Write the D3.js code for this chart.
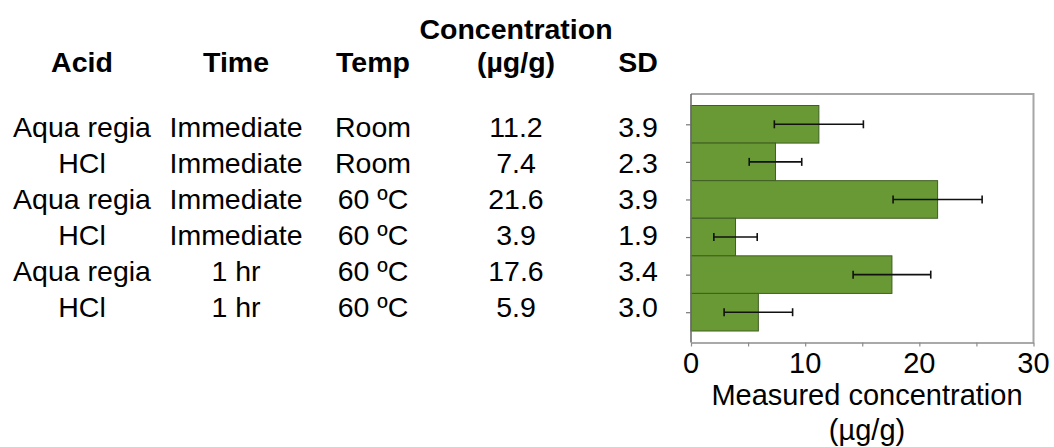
<!DOCTYPE html>
<html>
<head>
<meta charset="utf-8">
<script src="https://cdn.jsdelivr.net/npm/d3@7"></script>
<style>
  html, body { margin: 0; padding: 0; background: #fff; }
  svg { display: block; font-family: "Liberation Sans", Arial, sans-serif; }
</style>
</head>
<body>
<svg id="chart" width="1054" height="447"></svg>
<script>
// Extraction conditions and measured concentrations
const acids = ["Aqua regia", "HCl", "Aqua regia", "HCl", "Aqua regia", "HCl"];
const times = ["Immediate", "Immediate", "Immediate", "Immediate", "1 hr", "1 hr"];
const temps = ["Room", "Room", "60 ºC", "60 ºC", "60 ºC", "60 ºC"];
const concentration = [11.2, 7.4, 21.6, 3.9, 17.6, 5.9];
const sd = [3.9, 2.3, 3.9, 1.9, 3.4, 3.0];
const xTicks = [0, 10, 20, 30];
const xMinorTicks = [0, 5, 10, 15, 20, 25, 30];
const headers = ["Acid", "Time", "Temp", ["Concentration", "(µg/g)"], "SD"];
const xTitle = ["Measured concentration", "(µg/g)"];

const svg = d3.select("#chart");
const rowIdx = d3.range(concentration.length);
const fmt = d3.format(".1f");

// ---- Table on the left ----
const colX = [82, 236, 373, 516, 638];
const rowY = d3.scalePoint().domain(rowIdx).range([136.5, 316.5]);
const tableFont = 28.5;

const head = svg.append("g").attr("font-weight", "bold").attr("font-size", 28.5)
  .attr("text-anchor", "middle").attr("fill", "#000");
headers.forEach((h, i) => {
  const lines = Array.isArray(h) ? h : [h];
  lines.forEach((t, j) => {
    head.append("text")
      .attr("x", colX[i])
      .attr("y", 72 - (lines.length - 1 - j) * 33)
      .text(t);
  });
});

const columns = [
  acids,
  times,
  temps,
  concentration.map(fmt),
  sd.map(fmt)
];
const body = svg.append("g").attr("font-size", tableFont)
  .attr("text-anchor", "middle").attr("fill", "#000");
columns.forEach((col, c) => {
  body.selectAll(null).data(rowIdx).enter().append("text")
    .attr("x", colX[c])
    .attr("y", i => rowY(i))
    .text(i => col[i]);
});

// ---- Bar chart on the right ----
const plot = { left: 691, right: 1033.5, top: 94, bottom: 342.5 };
const x = d3.scaleLinear().domain([0, 30]).range([plot.left, plot.right]);
const y = d3.scaleBand().domain(rowIdx).range([105.5, 331]).padding(0);

// frame (top and right)
svg.append("path")
  .attr("d", `M${plot.left},${plot.top}H${plot.right}V${plot.bottom}`)
  .attr("fill", "none").attr("stroke", "#a6a6a6").attr("stroke-width", 2);

// bars
svg.append("g").selectAll("rect").data(rowIdx).enter().append("rect")
  .attr("x", x(0))
  .attr("y", i => y(i))
  .attr("width", i => x(concentration[i]) - x(0))
  .attr("height", y.bandwidth())
  .attr("fill", "#699934")
  .attr("stroke", "#3e5e22")
  .attr("stroke-width", 1);

// error bars
const eb = svg.append("g").attr("stroke", "#111").attr("stroke-width", 1.6);
rowIdx.forEach(i => {
  const cy = y(i) + y.bandwidth() / 2;
  const lo = x(concentration[i] - sd[i]);
  const hi = x(concentration[i] + sd[i]);
  eb.append("line").attr("x1", lo).attr("x2", hi).attr("y1", cy).attr("y2", cy);
  eb.append("line").attr("x1", lo).attr("x2", lo).attr("y1", cy - 4).attr("y2", cy + 4);
  eb.append("line").attr("x1", hi).attr("x2", hi).attr("y1", cy - 4).attr("y2", cy + 4);
});

// left axis with ticks at each bar
const yAxis = d3.axisLeft(d3.scalePoint().domain(rowIdx)
    .range([y(0) + y.bandwidth() / 2, y(rowIdx.length - 1) + y.bandwidth() / 2]))
  .tickSize(5).tickFormat("");
const yg = svg.append("g").attr("transform", `translate(${plot.left},0)`).call(yAxis);
yg.select(".domain").remove();
yg.selectAll(".tick line").attr("stroke", "#777").attr("stroke-width", 1.2);
svg.append("line")
  .attr("x1", plot.left).attr("x2", plot.left)
  .attr("y1", plot.top).attr("y2", plot.bottom)
  .attr("stroke", "#6e6e6e").attr("stroke-width", 1.6);

// bottom axis
const xg = svg.append("g").attr("transform", `translate(0,${plot.bottom})`)
  .call(d3.axisBottom(x).tickValues(xMinorTicks).tickSize(4).tickSizeOuter(0).tickFormat(""));
xg.select(".domain").attr("stroke", "#8c8c8c").attr("stroke-width", 1.6);
xg.selectAll(".tick line").attr("stroke", "#8c8c8c").attr("stroke-width", 1.2);

svg.append("g").attr("font-size", 29).attr("text-anchor", "middle").attr("fill", "#000")
  .selectAll("text").data(xTicks).enter().append("text")
  .attr("x", d => x(d))
  .attr("y", 373)
  .text(d => d);

const title = svg.append("g").attr("font-size", 29).attr("text-anchor", "middle").attr("fill", "#000");
xTitle.forEach((t, j) => {
  title.append("text").attr("x", 867).attr("y", 405 + j * 35).text(t);
});
</script>
</body>
</html>
